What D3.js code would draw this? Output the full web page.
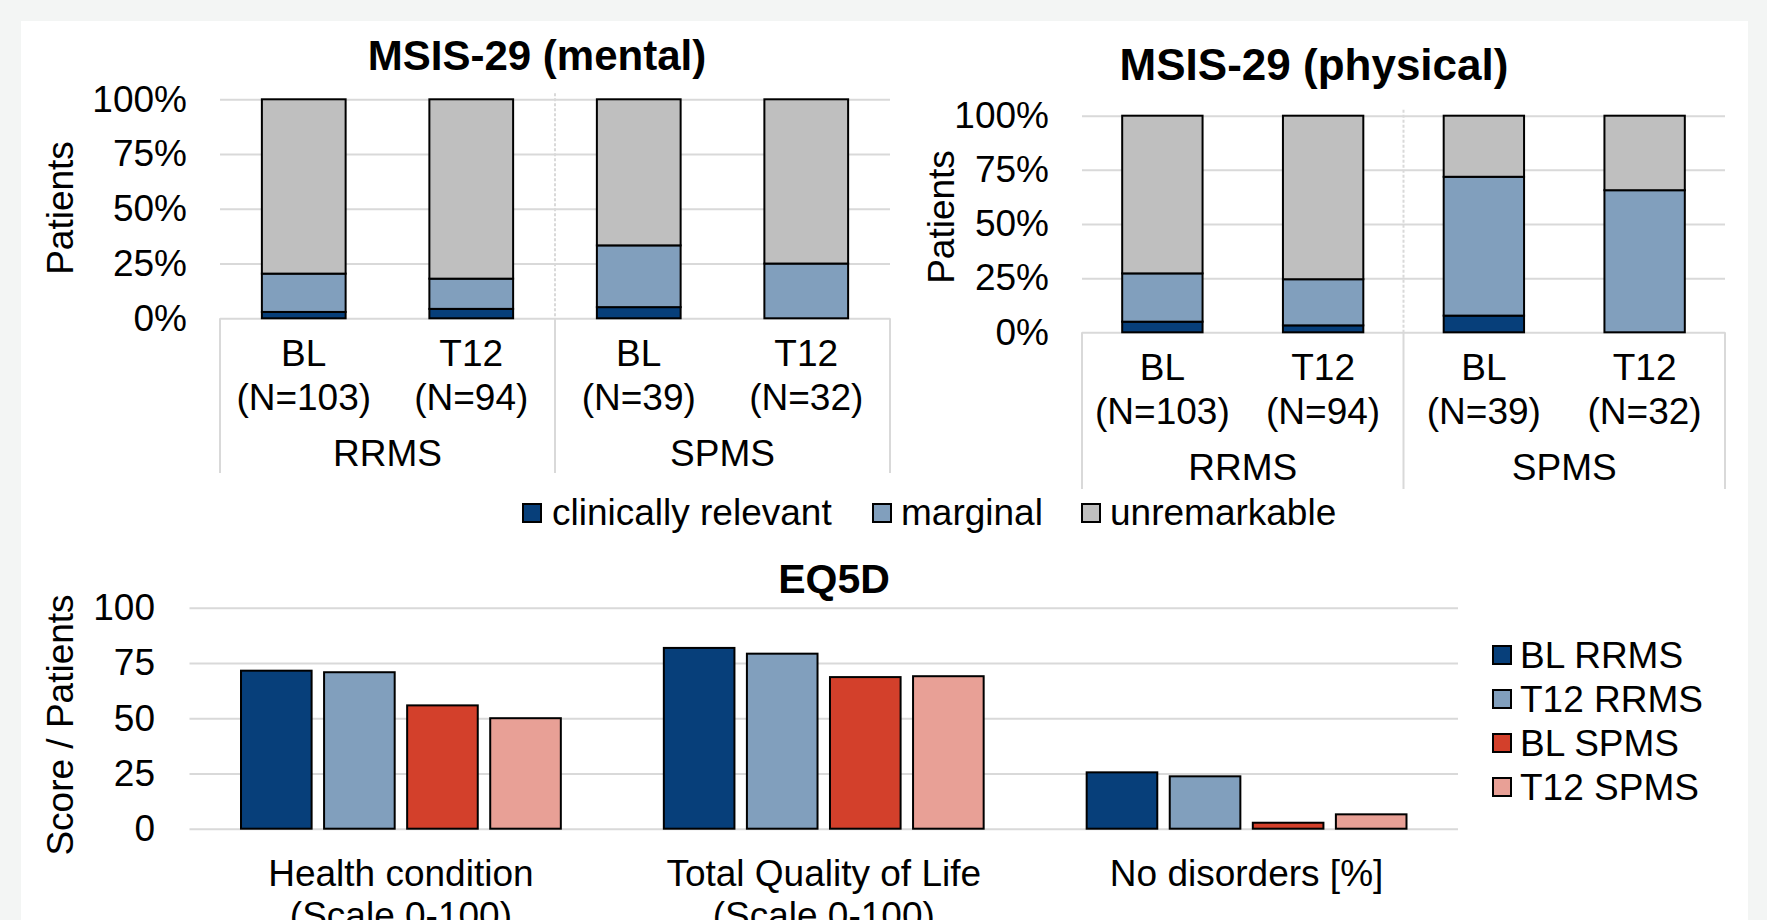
<!DOCTYPE html>
<html>
<head>
<meta charset="utf-8">
<script src="https://cdn.jsdelivr.net/npm/d3@7"></script>
<style>
  html, body { margin: 0; padding: 0; background: #f3f5f4; }
  svg { display: block; }
  text { font-family: "Liberation Sans", Arial, sans-serif; fill: #000; }
</style>
</head>
<body>
<svg id="chart" width="1767" height="920"></svg>
<script>
// ---------- DATA ----------
const msisCategories = ["BL", "T12", "BL", "T12"];
const msisN = ["(N=103)", "(N=94)", "(N=39)", "(N=32)"];
const msisGroups = ["RRMS", "SPMS"];
const stackKeys = ["clinically relevant", "marginal", "unremarkable"];

const mentalClinical = [2.9, 4.3, 5.1, 0];
const mentalMarginal = [17.5, 13.8, 28.2, 25.0];
const mentalUnremarkable = [79.6, 81.9, 66.7, 75.0];

const physicalClinical = [4.9, 3.2, 7.7, 0];
const physicalMarginal = [22.3, 21.3, 64.1, 65.6];
const physicalUnremarkable = [72.8, 75.5, 28.2, 34.4];

const percentTicks = [0, 25, 50, 75, 100];

const eqCategories = [["Health condition", "(Scale 0-100)"], ["Total Quality of Life", "(Scale 0-100)"], ["No disorders [%]"]];
const eqSeries = ["BL RRMS", "T12 RRMS", "BL SPMS", "T12 SPMS"];
const blRRMS = [71.5, 81.8, 25.5];
const t12RRMS = [70.8, 79.2, 23.7];
const blSPMS = [55.8, 68.6, 2.7];
const t12SPMS = [50.0, 69.0, 6.5];
const eqTicks = [0, 25, 50, 75, 100];

// ---------- STYLE ----------
const stackColors = ["#073f7a", "#819fbd", "#bfbfbf"];
const eqColors = ["#073f7a", "#819fbd", "#d3402b", "#e8a096"];
const gridColor = "#d9d9d9";
const FS = 37;

const svg = d3.select("#chart");
svg.append("rect").attr("x", 0).attr("y", 0).attr("width", 1767).attr("height", 920).attr("fill", "#f3f5f4");
svg.append("rect").attr("x", 21).attr("y", 21).attr("width", 1727).attr("height", 920).attr("fill", "#ffffff");

function styleAxis(g) {
  g.select(".domain").remove();
  g.selectAll(".tick line").attr("stroke", gridColor).attr("stroke-width", 2);
  g.selectAll(".tick text").attr("font-size", FS).attr("fill", "#000")
    .attr("font-family", '"Liberation Sans", Arial, sans-serif');
}

function drawStacked(cfg) {
  const x = d3.scaleBand().domain(d3.range(4)).range([cfg.x0, cfg.x1]).paddingInner(0.5).paddingOuter(0.25);
  const y = d3.scaleLinear().domain([0, 100]).range([cfg.yBottom, cfg.yTop]);
  const g = svg.append("g");

  // gridlines + tick labels
  const ax = g.append("g").attr("transform", `translate(${cfg.x0},0)`)
    .call(d3.axisLeft(y).tickValues(percentTicks).tickFormat(d => d + "%")
      .tickSizeInner(-(cfg.x1 - cfg.x0)).tickSizeOuter(0).tickPadding(33));
  styleAxis(ax);

  // group divider (dashed inside plot)
  const mid = (cfg.x0 + cfg.x1) / 2;
  g.append("line").attr("x1", mid).attr("x2", mid).attr("y1", cfg.yTop - 6).attr("y2", cfg.yBottom)
    .attr("stroke", gridColor).attr("stroke-width", 2).attr("stroke-dasharray", "3,2");
  // solid separators below axis
  [cfg.x0, mid, cfg.x1].forEach(xx => {
    g.append("line").attr("x1", xx).attr("x2", xx).attr("y1", cfg.yBottom).attr("y2", cfg.sepBottom)
      .attr("stroke", gridColor).attr("stroke-width", 2);
  });

  // stacks
  const rows = d3.range(4).map(i => ({
    i: i,
    "clinically relevant": cfg.clinical[i],
    "marginal": cfg.marginal[i],
    "unremarkable": cfg.unremarkable[i]
  }));
  const series = d3.stack().keys(stackKeys)(rows);
  series.forEach((s, si) => {
    g.append("g").selectAll("rect").data(s.filter(d => d[1] - d[0] > 0)).join("rect")
      .attr("x", d => x(d.data.i))
      .attr("width", x.bandwidth())
      .attr("y", d => y(d[1]))
      .attr("height", d => y(d[0]) - y(d[1]))
      .attr("fill", stackColors[si])
      .attr("stroke", "#000").attr("stroke-width", 2);
  });

  // category labels
  d3.range(4).forEach(i => {
    const cx = x(i) + x.bandwidth() / 2;
    g.append("text").attr("x", cx).attr("y", cfg.yBottom + 48).attr("text-anchor", "middle")
      .attr("font-size", FS).text(msisCategories[i]);
    g.append("text").attr("x", cx).attr("y", cfg.yBottom + 92).attr("text-anchor", "middle")
      .attr("font-size", FS).text(msisN[i]);
  });
  msisGroups.forEach((gr, gi) => {
    const cx = gi === 0 ? (cfg.x0 + mid) / 2 : (mid + cfg.x1) / 2;
    g.append("text").attr("x", cx).attr("y", cfg.yBottom + 148).attr("text-anchor", "middle")
      .attr("font-size", FS).text(gr);
  });

  // y label
  g.append("text").attr("transform", `translate(${cfg.ylabX},${cfg.ylabY}) rotate(-90)`)
    .attr("text-anchor", "middle").attr("dominant-baseline", "central")
    .attr("font-size", FS).text("Patients");

  // title
  g.append("text").attr("x", cfg.titleX).attr("y", cfg.titleY).attr("text-anchor", "middle")
    .attr("font-size", cfg.titleSize).attr("font-weight", "bold").text(cfg.title);
}

drawStacked({
  x0: 220, x1: 890, yBottom: 318.3, yTop: 99.3, sepBottom: 473,
  clinical: mentalClinical, marginal: mentalMarginal, unremarkable: mentalUnremarkable,
  ylabX: 60, ylabY: 208, titleX: 537, titleY: 70, titleSize: 42, title: "MSIS-29 (mental)"
});
drawStacked({
  x0: 1082, x1: 1725, yBottom: 332.3, yTop: 115.7, sepBottom: 489,
  clinical: physicalClinical, marginal: physicalMarginal, unremarkable: physicalUnremarkable,
  ylabX: 941, ylabY: 217, titleX: 1314, titleY: 80, titleSize: 44, title: "MSIS-29 (physical)"
});

// legend for MSIS
const leg1 = [
  { key: stackKeys[0], sx: 523, tx: 552 },
  { key: stackKeys[1], sx: 873, tx: 901 },
  { key: stackKeys[2], sx: 1082, tx: 1110 }
];
leg1.forEach((d, i) => {
  svg.append("rect").attr("x", d.sx).attr("y", 504).attr("width", 18).attr("height", 18)
    .attr("fill", stackColors[i]).attr("stroke", "#000").attr("stroke-width", 2);
  svg.append("text").attr("x", d.tx).attr("y", 525).attr("font-size", FS).text(d.key);
});

// ---------- EQ5D ----------
(function () {
  const x0 = 189.5, x1 = 1458, yB = 828.7, yT = 607.7;
  const x = d3.scaleBand().domain(d3.range(eqCategories.length)).range([x0, x1]).padding(0);
  const xi = d3.scaleBand().domain(eqSeries).range([0, x.bandwidth()]).paddingInner(0.15).paddingOuter(0.62);
  const y = d3.scaleLinear().domain([0, 100]).range([yB, yT]);
  const g = svg.append("g");

  const ax = g.append("g").attr("transform", `translate(${x0},0)`)
    .call(d3.axisLeft(y).tickValues(eqTicks).tickFormat(d3.format("d"))
      .tickSizeInner(-(x1 - x0)).tickSizeOuter(0).tickPadding(34.5));
  styleAxis(ax);

  const seriesVals = [blRRMS, t12RRMS, blSPMS, t12SPMS];
  seriesVals.forEach((vals, si) => {
    g.append("g").selectAll("rect").data(vals).join("rect")
      .attr("x", (d, ci) => x(ci) + xi(eqSeries[si]))
      .attr("width", xi.bandwidth())
      .attr("y", d => y(d))
      .attr("height", d => yB - y(d))
      .attr("fill", eqColors[si])
      .attr("stroke", "#000").attr("stroke-width", 2);
  });

  eqCategories.forEach((lines, ci) => {
    const cx = x(ci) + x.bandwidth() / 2;
    lines.forEach((ln, li) => {
      g.append("text").attr("x", cx).attr("y", 886 + li * 42).attr("text-anchor", "middle")
        .attr("font-size", FS).text(ln);
    });
  });

  g.append("text").attr("transform", `translate(60,725) rotate(-90)`)
    .attr("text-anchor", "middle").attr("dominant-baseline", "central")
    .attr("font-size", FS).text("Score / Patients");

  g.append("text").attr("x", 834).attr("y", 593).attr("text-anchor", "middle")
    .attr("font-size", 41).attr("font-weight", "bold").text("EQ5D");

  // legend
  eqSeries.forEach((s, i) => {
    const cy = 655 + i * 44;
    g.append("rect").attr("x", 1493).attr("y", cy - 9).attr("width", 18).attr("height", 18)
      .attr("fill", eqColors[i]).attr("stroke", "#000").attr("stroke-width", 2);
    g.append("text").attr("x", 1520).attr("y", cy + 13).attr("font-size", FS).text(s);
  });
})();
</script>
</body>
</html>
